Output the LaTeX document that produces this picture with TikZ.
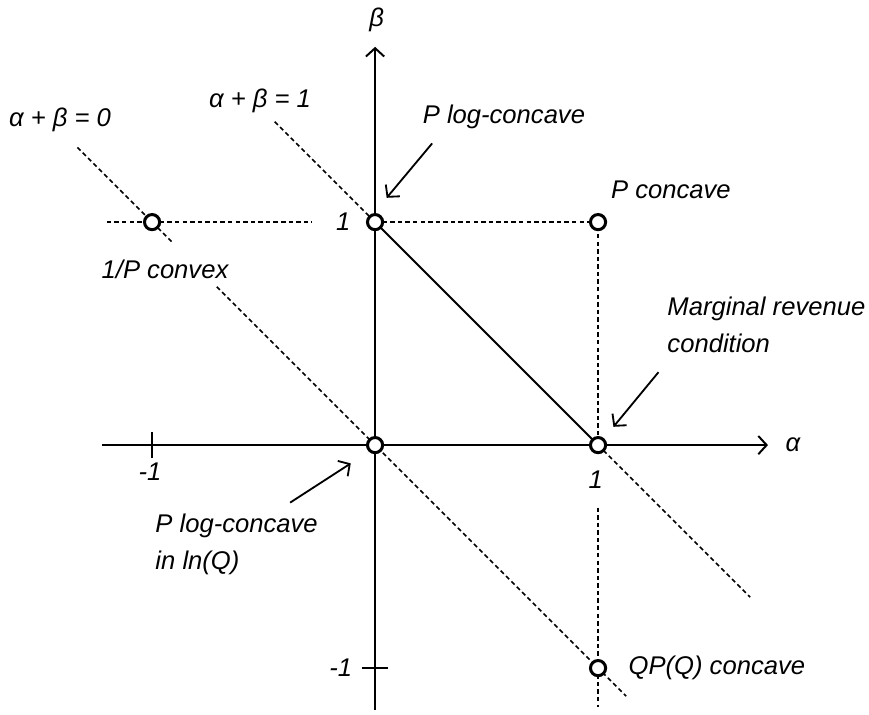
\documentclass[tikz,border=0pt]{standalone}
\usepackage{fontspec}
\setmainfont{Liberation Sans}
\usetikzlibrary{arrows.meta}

\tikzset{
  guide/.style={dash pattern=on 1.7pt off 1.2pt, line width=.6pt},
  axis/.style={line width=.75pt},
  dot/.style={circle, draw, fill=white, line width=1.15pt, minimum size=5.8pt, inner sep=0pt},
  lbl/.style={inner sep=0pt, font=\fontsize{9.8}{14}\selectfont\itshape},
  pointer/.style={->, line width=.7pt},
}

\begin{document}
\begin{tikzpicture}[x=3cm, y=3cm, >={Straight Barb[length=3.2pt,width=7pt]}]
\useasboundingbox (-1.682,-1.206) rectangle (2.215,1.996);
% points of interest
\coordinate (O) at (0,0);
\coordinate (a1) at (1,0);
\coordinate (b1) at (0,1);
\coordinate (ab1) at (1,1);
\coordinate (pinv) at (-1,1);
\coordinate (qp) at (1,-1);
% dashed guides
\draw[guide] (-1.335,1.335) -- (-0.912,0.912);
\draw[guide] (-0.71,0.71) -- (1.126,-1.126);
\draw[guide] (-0.45,1.45) -- (b1);
\draw[guide] (a1) -- (1.682,-0.682);
\draw[guide] (-1.203,1) -- (-0.284,1);
\draw[guide] (b1) -- (ab1) -- (a1);
\draw[guide] (1,-0.28) -- (1,-1.174);
% axes
\draw[axis,->] (-1.224,0) -- (1.762,0);
\draw[axis,->] (0,-1.19) -- (0,1.786);
\draw[axis] (-1,-0.06) -- (-1,0.06);
\draw[axis] (-0.06,-1) -- (0.06,-1);
\draw[axis] (b1) -- (a1);
% circles
\foreach \p in {O,a1,b1,ab1,pinv,qp}
  \node[dot] (\p dot) at (\p) {};
% axis labels
\node[lbl] (alab) at (1.874,0) {α};
\node[lbl] (blab) at (0.007,1.906) {β};
\node[lbl] (xm1) at (-1.009,-0.12) {-1};
\node[lbl] (x1) at (0.99,-0.156) {1};
\node[lbl] (ym1) at (-0.154,-1) {-1};
\node[lbl] (y1) at (-0.143,1) {1};
% line labels
\node[lbl] (l0) at (-1.413,1.46) {α + β = 0};
\node[lbl] (l1) at (-0.516,1.545) {α + β = 1};
% point labels
\node[lbl] (plc) at (0.578,1.473) {P log-concave};
\node[lbl] (pc) at (1.327,1.147) {P concave};
\node[lbl] (pcx) at (-0.942,0.79) {1/P convex};
\node[lbl, anchor=west, align=left] (mr) at (1.309,0.54) {Marginal revenue\\condition};
\node[lbl, anchor=west, align=left] (pln) at (-0.987,-0.446) {P log-concave\\in ln(Q)};
\node[lbl, anchor=west] (qpc) at (1.135,-1) {QP(Q) concave};
% pointers
\coordinate (t1) at (0.052,1.109);
\coordinate (t2) at (1.069,0.082);
\coordinate (t3) at (-0.109,-0.082);
\draw[pointer] (0.256,1.353) -- (t1);
\draw[pointer] (1.271,0.327) -- (t2);
\draw[pointer] (-0.381,-0.258) -- (t3);
\end{tikzpicture}
\end{document}
